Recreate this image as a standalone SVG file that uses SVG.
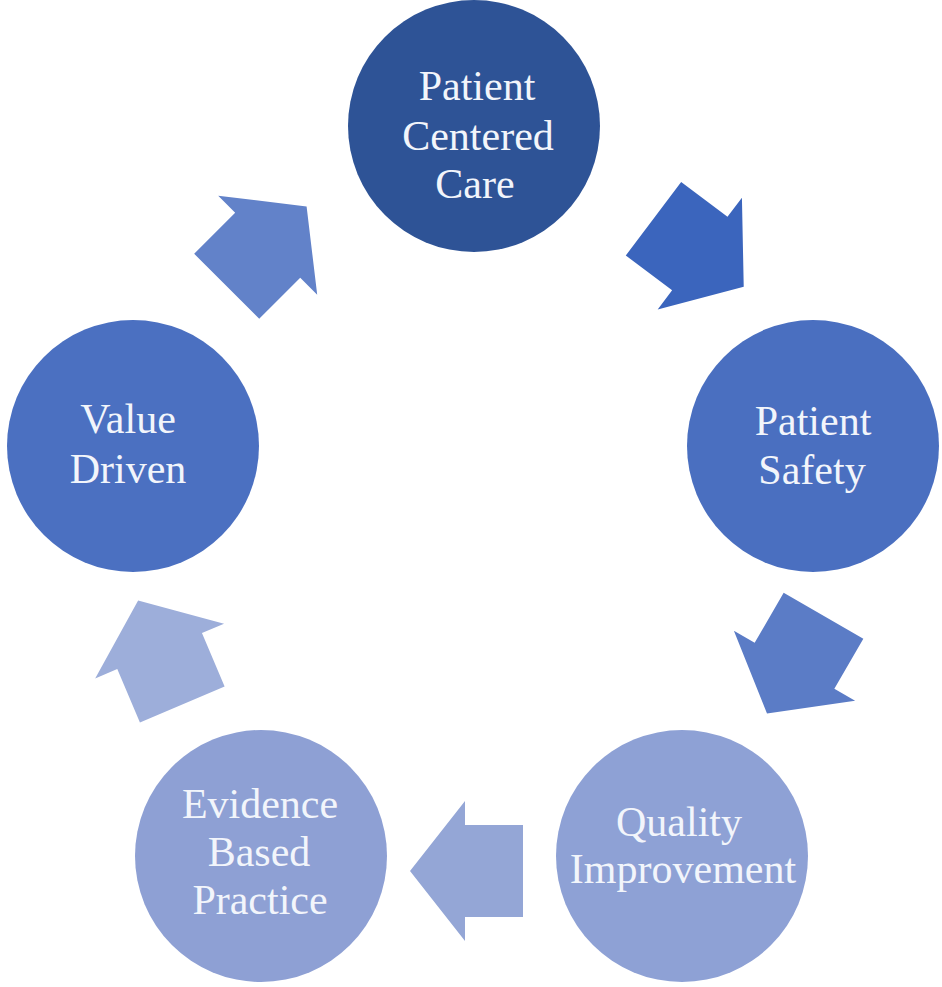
<svg xmlns="http://www.w3.org/2000/svg" width="942" height="987" viewBox="0 0 942 987">
<defs>
<style>
.lbl{font-family:"Liberation Serif","Times New Roman",serif;font-size:42px;fill:#F2F5FB;text-anchor:middle}
</style>
<polygon id="arr" points="-57,-46 1,-46 1,-70 56,0 1,70 1,46 -57,46"/>
</defs>
<rect width="942" height="987" fill="#FFFFFF"/>
<g id="connectors">
<use href="#arr" transform="translate(267,246) rotate(-45)" fill="#6282C9"/>
<use href="#arr" transform="translate(699,253) rotate(37)" fill="#3B65BD"/>
<use href="#arr" transform="translate(795,665) rotate(120)" fill="#5B7CC6"/>
<use href="#arr" transform="translate(466,871) rotate(180)" fill="#94A6D6"/>
<use href="#arr" transform="translate(160,652) rotate(-113)" fill="#9DAEDA"/>
</g>
<g id="patient-centered-care">
<circle cx="474" cy="126" r="126" fill="#2E5396"/>
<text class="lbl" x="477" y="100">Patient</text>
<text class="lbl" x="478" y="150">Centered</text>
<text class="lbl" x="475" y="198">Care</text>
</g>
<g id="patient-safety">
<circle cx="813" cy="446" r="126" fill="#4A6FC0"/>
<text class="lbl" x="813" y="435">Patient</text>
<text class="lbl" x="812" y="484">Safety</text>
</g>
<g id="quality-improvement">
<circle cx="682" cy="856" r="126" fill="#8EA1D5"/>
<text class="lbl" x="679" y="836">Quality</text>
<text class="lbl" x="683" y="883">Improvement</text>
</g>
<g id="evidence-based-practice">
<circle cx="261" cy="856" r="126" fill="#8EA0D4"/>
<text class="lbl" x="260" y="818">Evidence</text>
<text class="lbl" x="259" y="866">Based</text>
<text class="lbl" x="260" y="914">Practice</text>
</g>
<g id="value-driven">
<circle cx="133" cy="446" r="126" fill="#4B70C1"/>
<text class="lbl" x="128" y="433">Value</text>
<text class="lbl" x="128" y="483">Driven</text>
</g>
</svg>
